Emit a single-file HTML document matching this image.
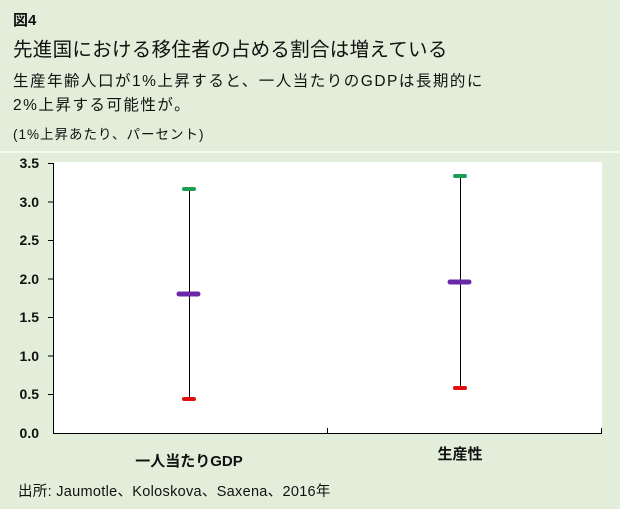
<!DOCTYPE html>
<html><head><meta charset="utf-8"><style>
body{margin:0;width:620px;height:509px;background:#e2eed9;overflow:hidden;font-family:"Liberation Sans","Noto Sans CJK JP",sans-serif;}
.t{position:absolute;left:13px;color:#111;white-space:nowrap;}
</style></head><body>
<div style="position:absolute;left:0;top:151px;width:620px;height:2px;background:#f4f9f0"></div>
<div class="t" style="top:9px;font-size:15px;font-weight:bold">図4</div>
<div class="t" style="top:33px;font-size:19.5px;letter-spacing:0.3px">先進国における移住者の占める割合は増えている</div>
<div class="t" style="top:69px;font-size:15.5px;letter-spacing:1.5px">生産年齢人口が1%上昇すると、一人当たりのGDPは長期的に</div>
<div class="t" style="top:93px;font-size:15.5px;letter-spacing:1.5px">2%上昇する可能性が。</div>
<div class="t" style="top:123px;font-size:13.5px;letter-spacing:1px">(1%上昇あたり、パーセント)</div>
<svg width="620" height="509" style="position:absolute;left:0;top:0">
<rect x="53" y="162" width="549" height="271" fill="#fff"/>
<g stroke="#000" stroke-width="1">
<line x1="53.5" y1="163" x2="53.5" y2="433"/>
<line x1="53" y1="433.5" x2="602" y2="433.5"/>
<line x1="48" y1="163.5" x2="53" y2="163.5"/>
<line x1="48" y1="202" x2="53" y2="202"/>
<line x1="48" y1="240.5" x2="53" y2="240.5"/>
<line x1="48" y1="279" x2="53" y2="279"/>
<line x1="48" y1="317.5" x2="53" y2="317.5"/>
<line x1="48" y1="356" x2="53" y2="356"/>
<line x1="48" y1="394.5" x2="53" y2="394.5"/>
<line x1="327.5" y1="428" x2="327.5" y2="433"/>
<line x1="601.5" y1="428" x2="601.5" y2="433"/>
<line x1="189.5" y1="189" x2="189.5" y2="399"/>
<line x1="460.5" y1="176" x2="460.5" y2="388"/>
</g>
<g stroke-width="4" stroke-linecap="round">
<line x1="184" y1="189" x2="194" y2="189" stroke="#1f9d55"/>
<line x1="184" y1="399" x2="194" y2="399" stroke="#e01010"/>
<line x1="455" y1="176" x2="465" y2="176" stroke="#1f9d55"/>
<line x1="455" y1="388" x2="465" y2="388" stroke="#e01010"/>
</g>
<g stroke="#6a2aa8" stroke-width="5" stroke-linecap="round">
<line x1="179" y1="294" x2="198" y2="294"/>
<line x1="450" y1="282" x2="469" y2="282"/>
</g>
<g font-size="14" font-weight="bold" text-anchor="end" fill="#111">
<text x="39" y="168">3.5</text><text x="39" y="207">3.0</text><text x="39" y="245">2.5</text><text x="39" y="284">2.0</text><text x="39" y="322">1.5</text><text x="39" y="361">1.0</text><text x="39" y="399">0.5</text><text x="39" y="438">0.0</text>
</g>
<g font-size="15" font-weight="bold" text-anchor="middle" fill="#111">
<text x="189" y="466">一人当たりGDP</text>
<text x="460" y="459">生産性</text>
</g>
<text x="18" y="496" font-size="14.5" letter-spacing="0.3" fill="#111">出所: Jaumotle、Koloskova、Saxena、2016年</text>
</svg>
</body></html>
